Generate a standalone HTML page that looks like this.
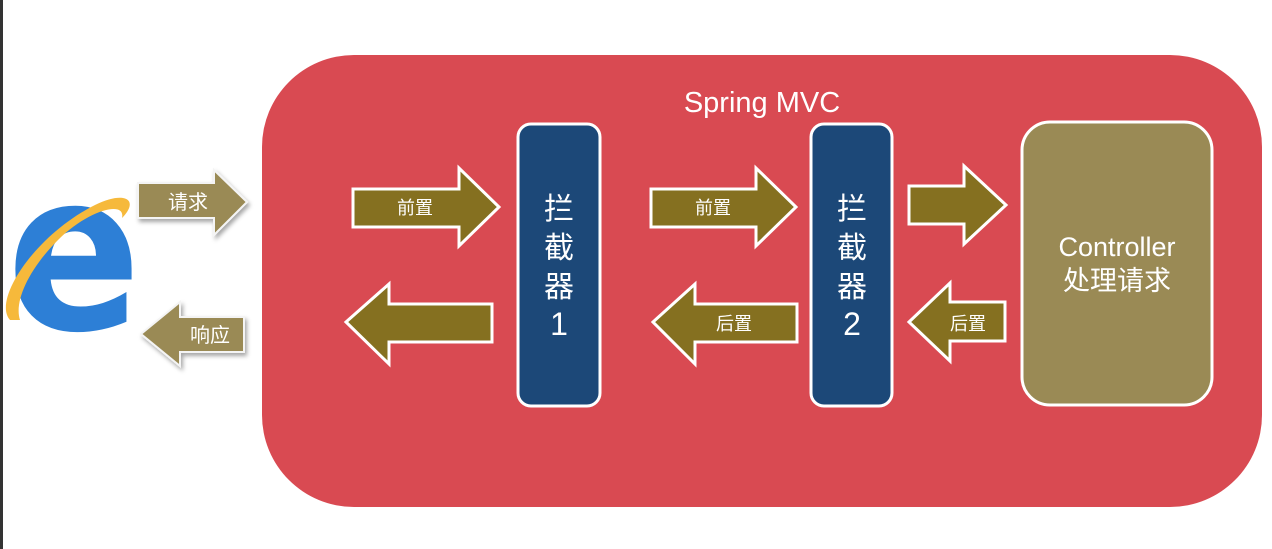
<!DOCTYPE html>
<html><head><meta charset="utf-8"><style>
html,body{margin:0;padding:0;background:#fff;width:1272px;height:549px;overflow:hidden}
svg text{font-family:"Liberation Sans","Noto Sans CJK SC",sans-serif;fill:#fff}
</style></head><body>
<svg width="1272" height="549" viewBox="0 0 1272 549" xmlns="http://www.w3.org/2000/svg">
<defs><filter id="sh" x="-20%" y="-20%" width="150%" height="150%"><feDropShadow dx="2" dy="3" stdDeviation="2" flood-color="#000" flood-opacity="0.35"/></filter></defs>
<rect x="0" y="0" width="3" height="549" fill="#333"/>
<!-- IE logo -->
<g>
<text x="0" y="0" transform="translate(74,329) scale(0.9,1)" font-size="220" font-weight="bold" text-anchor="middle" style="fill:#2d7fd6;font-family:'DejaVu Sans',sans-serif">e</text>
<path d="M10 320 C-8 300 35 235 95 205 C125 190 140 200 122 218 C126 200 88 210 58 240 C28 270 14 302 20 320 Z" fill="#f6b93b"/>
</g>
<!-- outside arrows -->
<g filter="url(#sh)">
<polygon points="138,183 214,183 214,170 247,202 214,235 214,218 138,218" fill="#9a8a55" stroke="#f4f4f4" stroke-width="2"/>
<polygon points="141,334 180,302 180,317 244,317 244,352 180,352 180,366" fill="#9a8a55" stroke="#f4f4f4" stroke-width="2"/>
</g>
<text x="188" y="209" font-size="20" text-anchor="middle">请求</text>
<text x="210" y="342" font-size="20" text-anchor="middle">响应</text>
<!-- red container -->
<rect x="262" y="55" width="1000" height="452" rx="92" fill="#d94a52"/>
<text x="762" y="112" font-size="29" text-anchor="middle">Spring MVC</text>
<!-- interceptors -->
<rect x="518" y="124" width="82" height="282" rx="13" fill="#1c4878" stroke="#fff" stroke-width="3"/>
<rect x="811" y="124" width="81" height="282" rx="13" fill="#1c4878" stroke="#fff" stroke-width="3"/>
<g font-size="30" text-anchor="middle">
<text x="559" y="219">拦</text><text x="559" y="258">截</text><text x="559" y="297">器</text><text x="559" y="335" font-size="32">1</text>
<text x="852" y="219">拦</text><text x="852" y="258">截</text><text x="852" y="297">器</text><text x="852" y="335" font-size="32">2</text>
</g>
<!-- controller -->
<rect x="1022" y="122" width="190" height="283" rx="28" fill="#9a8a55" stroke="#fff" stroke-width="3"/>
<text x="1117" y="256" font-size="27" text-anchor="middle">Controller</text>
<text x="1117" y="290" font-size="27" text-anchor="middle">处理请求</text>
<!-- inner arrows -->
<g fill="#857020" stroke="#fff" stroke-width="3" stroke-linejoin="miter">
<polygon points="353,189 459,189 459,168 499,207 459,246 459,227 353,227"/>
<polygon points="346,322 389,284 389,304 492,304 492,342 389,342 389,364"/>
<polygon points="651,189 756,189 756,168 796,207 756,246 756,227 651,227"/>
<polygon points="653,322 695,284 695,304 797,304 797,342 695,342 695,364"/>
<polygon points="909,186 964,186 964,166 1006,205 964,244 964,224 909,224"/>
<polygon points="909,322 950,283 950,302 1005,302 1005,341 950,341 950,361"/>
</g>
<g font-size="18" text-anchor="middle">
<text x="415" y="214">前置</text>
<text x="713" y="214">前置</text>
<text x="734" y="330">后置</text>
<text x="968" y="330">后置</text>
</g>
</svg>
</body></html>
